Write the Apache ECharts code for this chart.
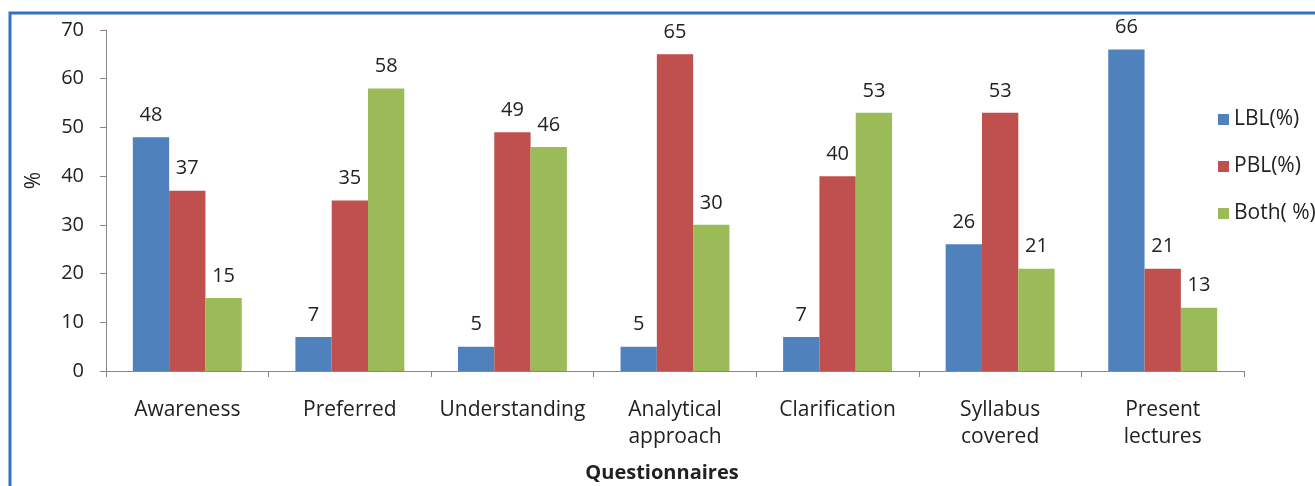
<!DOCTYPE html>
<html lang="en">
<head>
    <meta charset="UTF-8">
    <title>Questionnaires</title>
    <script src="https://cdn.jsdelivr.net/npm/echarts@6/dist/echarts.min.js"></script>
    <style>
        html, body { margin: 0; padding: 0; background: #fff; }
    </style>
</head>
<body>
<div id="main" style="width: 1315px;height:486px;"></div>
<script type="text/javascript">
    // data
    var categories = ['Awareness', 'Preferred', 'Understanding', 'Analytical\napproach', 'Clarification', 'Syllabus\ncovered', 'Present\nlectures'];
    var lbl = [48, 7, 5, 5, 7, 26, 66];
    var pbl = [37, 35, 49, 65, 40, 53, 21];
    var both = [15, 58, 46, 30, 53, 21, 13];
    var yTicks = [0, 10, 20, 30, 40, 50, 60, 70];

    var font = '"Open Sans", sans-serif';
    var myChart = echarts.init(document.getElementById('main'));

    function barSeries(name, data, color) {
        return {
            type: 'bar',
            name: name,
            data: data,
            barGap: 0,
            barCategoryGap: '33%',
            itemStyle: { color: color },
            label: {
                show: true,
                position: 'top',
                distance: 12,
                color: '#222',
                fontSize: 20,
                fontFamily: font
            }
        };
    }

    var option = {
        animation: false,
        textStyle: { fontFamily: font },
        graphic: [{
            type: 'rect',
            shape: { x: 10, y: 13, width: 1400, height: 600 },
            style: { fill: 'none', stroke: '#3472bd', lineWidth: 3 }
        }],
        legend: {
            orient: 'vertical',
            left: 1213,
            top: 104,
            itemWidth: 11,
            itemHeight: 11,
            itemGap: 26,
            icon: 'rect',
            textStyle: { fontSize: 21, color: '#222', fontFamily: font },
            data: ['LBL(%)', 'PBL(%)', 'Both( %)']
        },
        grid: { left: 106, right: 71, top: 30, bottom: 115, outerBoundsMode: 'none' },
        xAxis: {
            type: 'category',
            data: categories,
            name: 'Questionnaires',
            nameLocation: 'middle',
            nameGap: 92,
            nameTextStyle: { fontSize: 20, fontWeight: 'bold', color: '#222', fontFamily: font, padding: [0, 26, 0, 0] },
            axisLine: { lineStyle: { color: '#888' } },
            axisTick: { show: true, length: 6, lineStyle: { color: '#888' } },
            axisLabel: { interval: 0, fontSize: 21, color: '#222', margin: 26, lineHeight: 27, fontFamily: font }
        },
        yAxis: {
            type: 'value',
            min: yTicks[0],
            max: yTicks[yTicks.length - 1],
            interval: 10,
            name: '%',
            nameLocation: 'middle',
            nameGap: 61,
            nameRotate: 90,
            nameTextStyle: { fontSize: 21, color: '#222', fontFamily: font, padding: [0, 0, 0, 40] },
            splitLine: { show: false },
            axisLine: { show: true, lineStyle: { color: '#888' } },
            axisTick: { show: true, length: 6, lineStyle: { color: '#888' } },
            axisLabel: { fontSize: 20, color: '#222', margin: 22, fontFamily: font }
        },
        series: [
            barSeries('LBL(%)', lbl, '#4f81bd'),
            barSeries('PBL(%)', pbl, '#c0504d'),
            barSeries('Both( %)', both, '#9bbb59')
        ]
    };

    myChart.setOption(option);
</script>
</body>
</html>
